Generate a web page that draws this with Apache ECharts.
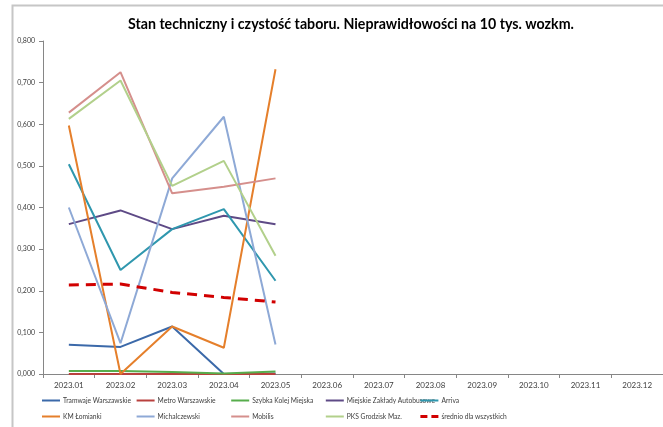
<!DOCTYPE html>
<html>
<head>
<meta charset="utf-8">
<script src="https://cdn.jsdelivr.net/npm/echarts@6/dist/echarts.min.js"></script>
<style>
html,body{margin:0;padding:0;background:#fff;}
#main{width:663px;height:427px;}
</style>
</head>
<body>
<div id="main"></div>
<script>
// miesiące (oś X)
var months = ['2023.01','2023.02','2023.03','2023.04','2023.05','2023.06','2023.07','2023.08','2023.09','2023.10','2023.11','2023.12'];
var yTicks = [0, 0.1, 0.2, 0.3, 0.4, 0.5, 0.6, 0.7, 0.8];

// nazwy przewoźników
var names = ['Tramwaje Warszawskie','Metro Warszawskie','Szybka Kolej Miejska','Miejskie Zakłady Autobusowe','Arriva',
             'KM Łomianki','Michalczewski','Mobilis','PKS Grodzisk Maz.','średnio dla wszystkich'];

// wartości (tylko styczeń - maj)
var tw   = [0.070, 0.065, 0.114, 0.000, 0.001];
var metro= [0.000, 0.000, 0.000, 0.000, 0.000];
var skm  = [0.007, 0.007, 0.005, 0.001, 0.006];
var mza  = [0.360, 0.393, 0.348, 0.380, 0.360];
var arriva = [0.504, 0.250, 0.348, 0.396, 0.224];
var kml  = [0.597, 0.000, 0.114, 0.063, 0.732];
var mich = [0.400, 0.074, 0.470, 0.618, 0.071];
var mobilis = [0.628, 0.725, 0.434, 0.450, 0.470];
var pks  = [0.613, 0.705, 0.452, 0.512, 0.284];
var avg  = [0.214, 0.216, 0.196, 0.184, 0.173];

var values = [tw, metro, skm, mza, arriva, kml, mich, mobilis, pks, avg];
var colors = ['#3b69a9','#b9413e','#57ad4c','#5e4a86','#2f97ae','#e57f2b','#8ea9d6','#d58f8c','#b2d08b','#d10000'];

var myChart = echarts.init(document.getElementById('main'));

var series = [];
var legends = [];
for (var i = 0; i < names.length; i++) {
    var isAvg = i == names.length - 1;
    series.push({
        name: names[i],
        type: 'line',
        data: values[i],
        symbol: 'none',
        color: colors[i],
        lineStyle: {
            width: isAvg ? 3 : 2,
            type: isAvg ? [10, 7] : 'solid',
            color: colors[i]
        },
        z: isAvg ? 5 : 2
    });
    // ikona legendy: linia (przerywana dla średniej)
    legends.push({
        data: [{
            name: names[i],
            icon: isAvg ? 'path://M0,0h7v3h-7z M11,0h7v3h-7z' : 'path://M0,0h18v2h-18z',
            itemStyle: { color: colors[i] }
        }],
        left: 42 + (i % 5) * 94.6,
        top: 397 + Math.floor(i / 5) * 16,
        itemWidth: 18,
        itemHeight: isAvg ? 3 : 2,
        itemGap: 2,
        padding: 0,
        selectedMode: false,
        itemStyle: { borderWidth: 0 },
        lineStyle: { width: 0, opacity: 0 },
        textStyle: { fontFamily: 'Lato', fontSize: 6.7, color: '#404040', padding: [0, 0, 0, -2] }
    });
}

myChart.setOption({
    backgroundColor: '#fff',
    animation: false,
    title: {
        text: 'Stan techniczny i czystość taboru. Nieprawidłowości na 10 tys. wozkm.',
        left: 123,
        top: 12,
        textStyle: { fontFamily: 'Lato', fontWeight: 'bold', fontSize: 14.2, color: '#000' }
    },
    graphic: [{
        type: 'rect',
        shape: { x: 12.5, y: 5.5, width: 700, height: 500 },
        style: { fill: 'none', stroke: '#c6c6c6', lineWidth: 2 },
        silent: true
    }],
    legend: legends,
    grid: {
        left: 43,
        right: -11,
        top: 41,
        bottom: 53
    },
    xAxis: {
        type: 'category',
        data: months,
        boundaryGap: true,
        axisLine: { lineStyle: { color: '#868686', width: 1 } },
        axisTick: { show: true, length: 4, lineStyle: { color: '#868686' } },
        axisLabel: { fontFamily: 'Lato', fontSize: 8, color: '#404040', margin: 7, interval: 0 },
        splitLine: { show: false }
    },
    yAxis: {
        type: 'value',
        min: yTicks[0],
        max: yTicks[yTicks.length - 1],
        interval: 0.1,
        axisLine: { show: true, lineStyle: { color: '#868686', width: 1 } },
        axisTick: { show: true, length: 4, lineStyle: { color: '#868686' } },
        axisLabel: {
            fontFamily: 'Lato', fontSize: 7, color: '#404040', margin: 8,
            formatter: function (v) { return v.toFixed(3).replace('.', ','); }
        },
        splitLine: { show: false }
    },
    series: series
});
</script>
</body>
</html>
